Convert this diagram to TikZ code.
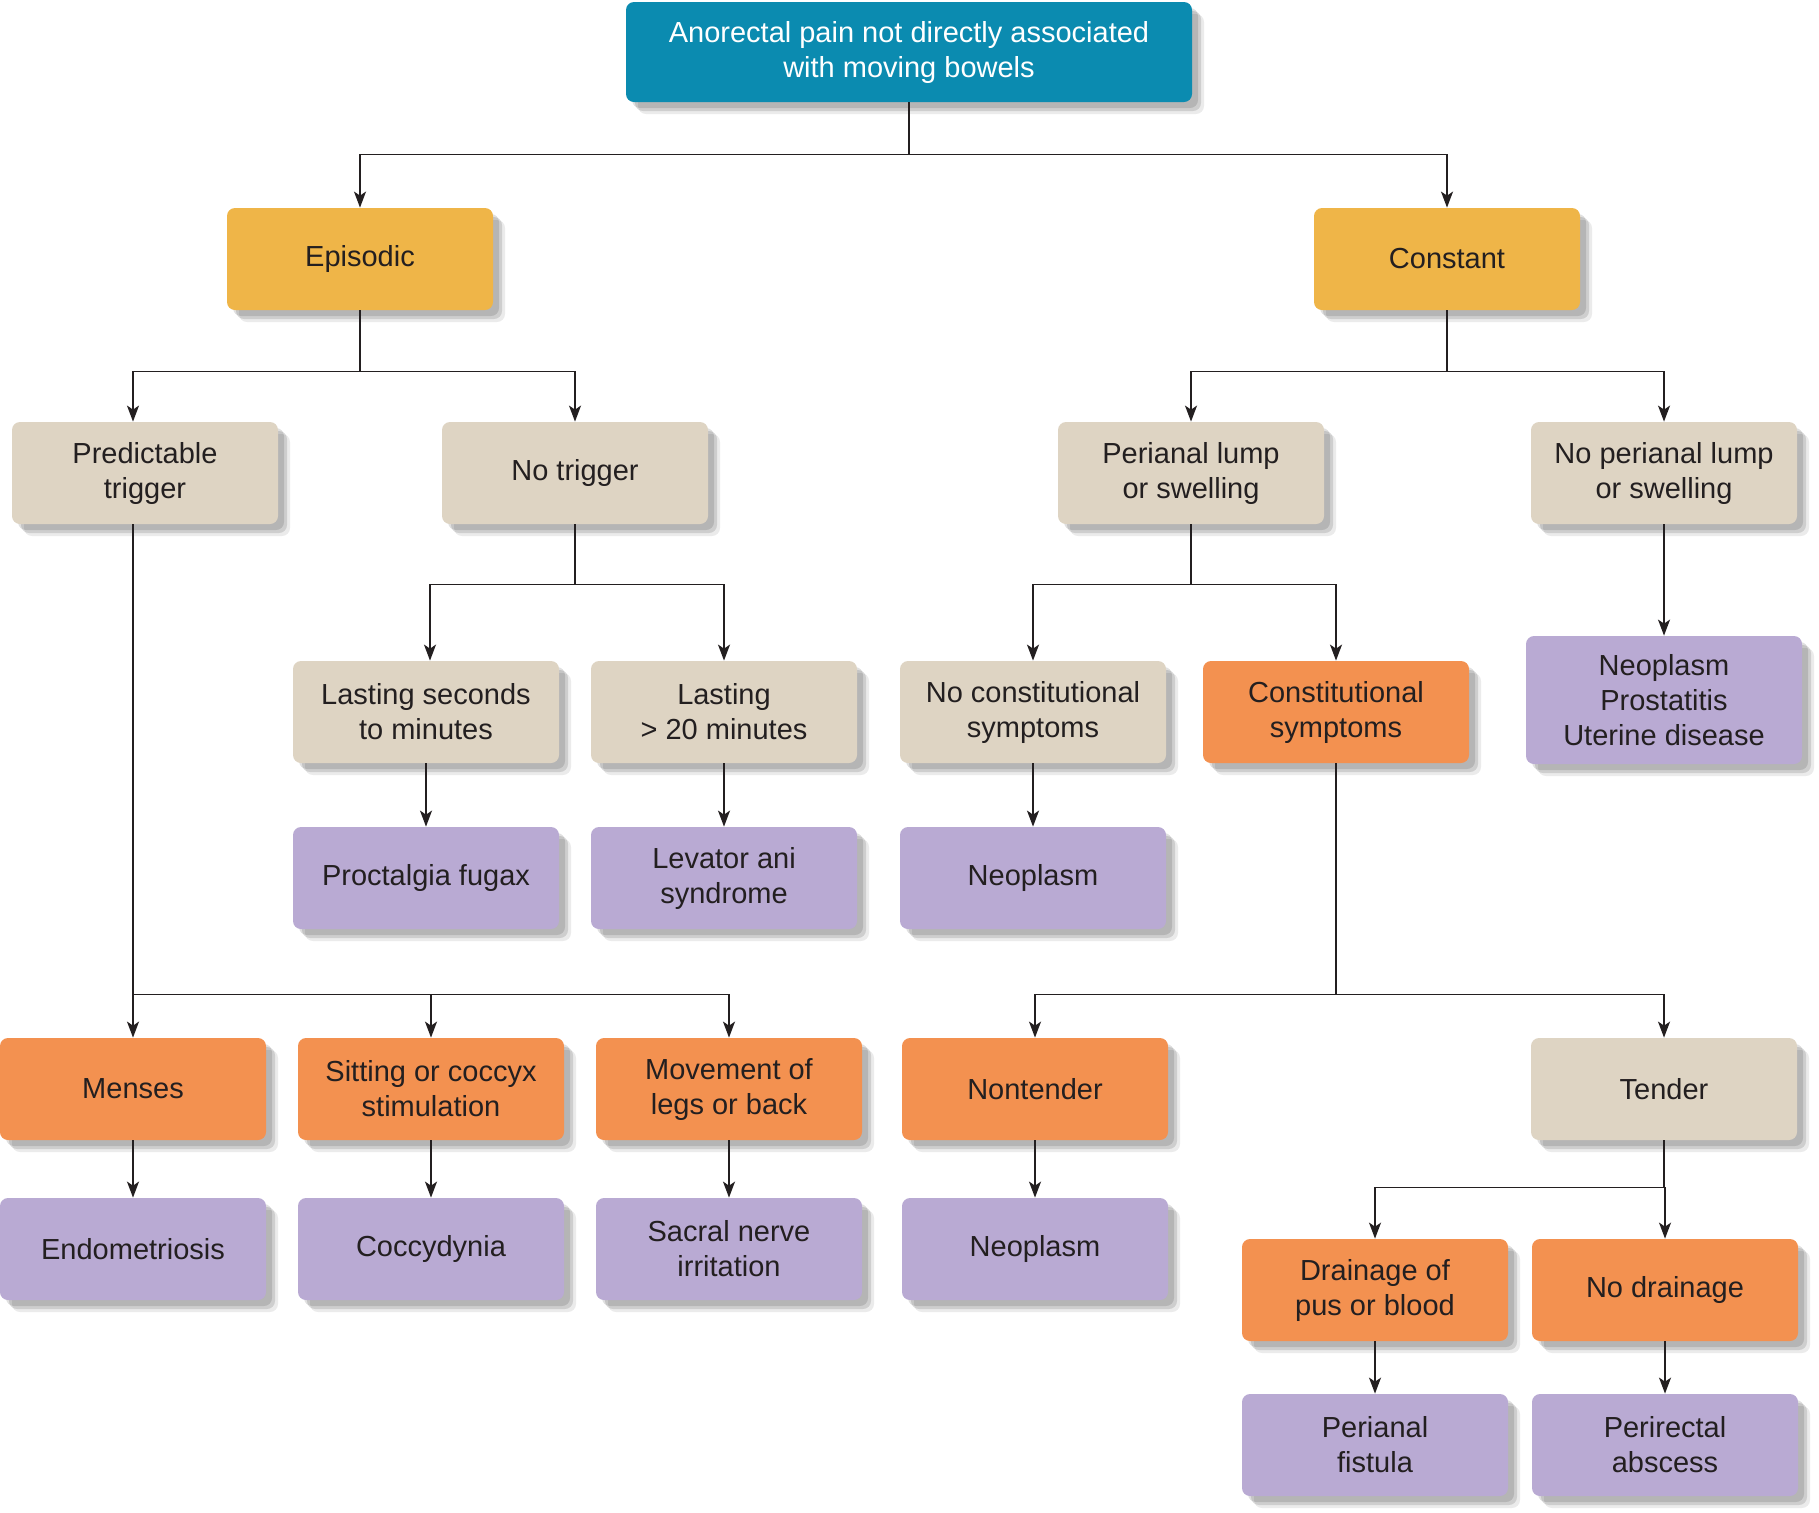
\documentclass[tikz,border=0pt]{standalone}
\usepackage{fontspec}
\setmainfont{Liberation Sans}
\usetikzlibrary{arrows.meta,shadows}
\definecolor{rootblue}{RGB}{11,139,176}
\definecolor{splitgold}{RGB}{239,181,72}
\definecolor{findbeige}{RGB}{222,212,195}
\definecolor{signorange}{RGB}{243,145,80}
\definecolor{dxpurple}{RGB}{185,170,211}
\definecolor{inkdark}{RGB}{35,31,32}

\tikzset{
  box/.style={rounded corners=4pt, minimum width=133pt, minimum height=51pt,
    inner sep=2pt, align=center, text=inkdark,
    font=\fontsize{14.5}{17.5}\selectfont,
    drop shadow={shadow xshift=6pt, shadow yshift=-6pt, fill=black, opacity=0.08},
    drop shadow={shadow xshift=4.5pt, shadow yshift=-4.5pt, fill=black, opacity=0.12},
    drop shadow={shadow xshift=3pt, shadow yshift=-3pt, fill=black, opacity=0.12}},
  rootbox/.style={box, fill=rootblue, text=white, minimum width=283pt, minimum height=50pt},
  splitbox/.style={box, fill=splitgold},
  findbox/.style={box, fill=findbeige},
  signbox/.style={box, fill=signorange},
  dxbox/.style={box, fill=dxpurple},
  arr/.style={-{Stealth[length=8pt,width=6pt,inset=2pt]}, line width=0.8pt, inkdark},
  ln/.style={line width=0.8pt, inkdark}
}

\begin{document}
\begin{tikzpicture}[x=0.5pt, y=-0.5pt]
\useasboundingbox (0,0) rectangle (1819,1512);

% top
\node[rootbox] (pain) at (909,52) {Anorectal pain not directly associated\\with moving bowels};
\node[splitbox] (episodic) at (360,259) {Episodic};
\node[splitbox] (constant) at (1447,259) {Constant};

% second level
\node[findbox] (predictable) at (145,473) {Predictable\\trigger};
\node[findbox] (notrigger) at (575,473) {No trigger};
\node[findbox] (lump) at (1191,473) {Perianal lump\\or swelling};
\node[findbox] (nolump) at (1664,473) {No perianal lump\\or swelling};

% third level
\node[findbox] (seconds) at (426,712) {Lasting seconds\\to minutes};
\node[findbox] (longer) at (724,712) {Lasting\\> 20 minutes};
\node[findbox] (noconst) at (1033,712) {No constitutional\\symptoms};
\node[signbox] (const) at (1336,712) {Constitutional\\symptoms};
\node[dxbox, minimum width=138pt, minimum height=64pt] (otherdx) at (1664,700) {Neoplasm\\Prostatitis\\Uterine disease};

\node[dxbox] (fugax) at (426,878) {Proctalgia fugax};
\node[dxbox] (levator) at (724,878) {Levator ani\\syndrome};
\node[dxbox] (neoA) at (1033,878) {Neoplasm};

% triggers and tenderness
\node[signbox] (menses) at (133,1089) {Menses};
\node[signbox] (sitting) at (431,1089) {Sitting or coccyx\\stimulation};
\node[signbox] (movement) at (729,1089) {Movement of\\legs or back};
\node[signbox] (nontender) at (1035,1089) {Nontender};
\node[findbox] (tender) at (1664,1089) {Tender};

\node[dxbox] (endo) at (133,1249) {Endometriosis};
\node[dxbox] (coccy) at (431,1249) {Coccydynia};
\node[dxbox] (sacral) at (729,1249) {Sacral nerve\\irritation};
\node[dxbox] (neoB) at (1035,1249) {Neoplasm};

\node[signbox] (drainage) at (1375,1290) {Drainage of\\pus or blood};
\node[signbox] (nodrain) at (1665,1290) {No drainage};
\node[dxbox] (fistula) at (1375,1445) {Perianal\\fistula};
\node[dxbox] (abscess) at (1665,1445) {Perirectal\\abscess};

% connectors
\draw[arr] (pain.south) -- ++(0,52) -| (episodic.north);
\draw[arr] (pain.south) -- ++(0,52) -| (constant.north);

\draw[arr] (episodic.south) -- ++(0,61) -| ([xshift=-6pt]predictable.north);
\draw[arr] (episodic.south) -- ++(0,61) -| (notrigger.north);
\draw[arr] (constant.south) -- ++(0,61) -| (lump.north);
\draw[arr] (constant.south) -- ++(0,61) -| (nolump.north);

\draw[arr] (notrigger.south) -- ++(0,60) -| ([xshift=2pt]seconds.north);
\draw[arr] (notrigger.south) -- ++(0,60) -| (longer.north);
\draw[arr] (lump.south) -- ++(0,60) -| (noconst.north);
\draw[arr] (lump.south) -- ++(0,60) -| (const.north);
\draw[arr] (nolump) -- (otherdx);

\draw[arr] (seconds) -- (fugax);
\draw[arr] (longer) -- (levator);
\draw[arr] (noconst) -- (neoA);

\draw[arr] ([xshift=-6pt]predictable.south) |- ++(0,470) -| (menses.north);
\draw[arr] ([xshift=-6pt]predictable.south) ++(0,470) -| (sitting.north);
\draw[arr] ([xshift=-6pt]predictable.south) ++(0,470) -| (movement.north);

\draw[arr] (const.south) -- ++(0,231) -| (nontender.north);
\draw[arr] (const.south) -- ++(0,231) -| (tender.north);

\draw[arr] (menses) -- (endo);
\draw[arr] (sitting) -- (coccy);
\draw[arr] (movement) -- (sacral);
\draw[arr] (nontender) -- (neoB);

\draw[arr] (tender.south) -- ++(0,47) -| (drainage.north);
\draw[arr] (tender.south) -- ++(0,47) -| (nodrain.north);
\draw[arr] (drainage) -- (fistula);
\draw[arr] (nodrain) -- (abscess);
\end{tikzpicture}
\end{document}
